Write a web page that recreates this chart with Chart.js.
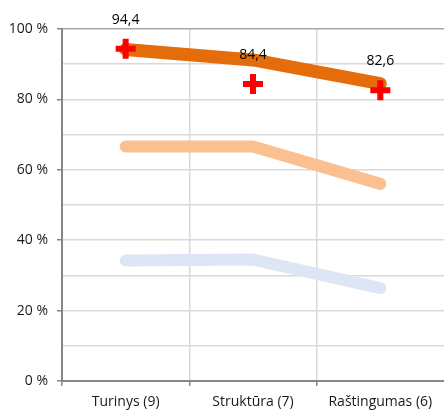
<!DOCTYPE html>
<html>
<head>
<meta charset="utf-8">
<script src="https://cdn.jsdelivr.net/npm/chart.js@4"></script>
<style>
  html, body { margin: 0; padding: 0; background: #fff; overflow: hidden; }
  #wrap { width: 444px; height: 411px; }
  canvas { display: block; }
</style>
</head>
<body>
<div id="wrap"><canvas id="chart" width="444" height="411"></canvas></div>
<script>
const categories = ["Turinys (9)", "Struktūra (7)", "Raštingumas (6)"];
const markValues = [94.4, 84.4, 82.6];
const darkValues = [94.2, 91.2, 84.5];
const lightValues = [66.6, 66.6, 56.0];
const blueValues = [34.2, 34.5, 26.4];
const yMajorTicks = [0, 20, 40, 60, 80, 100];

const FONT = "'Open Sans', 'Noto Sans', sans-serif";

// draws the value labels above the red crosses
const valueLabels = {
    id: "valueLabels",
    afterDatasetsDraw(chart) {
        const ctx = chart.ctx;
        const meta = chart.getDatasetMeta(0);
        ctx.save();
        ctx.font = "14px " + FONT;
        ctx.fillStyle = "#000";
        ctx.textAlign = "center";
        ctx.textBaseline = "middle";
        meta.data.forEach((pt, i) => {
            ctx.fillText(markValues[i].toFixed(1).replace(".", ","), pt.x, pt.y - 29);
        });
        ctx.restore();
    }
};

new Chart(document.getElementById("chart"), {
    type: "line",
    data: {
        labels: categories,
        datasets: [
            {
                data: markValues,
                showLine: false,
                pointStyle: "cross",
                pointRadius: 10,
                pointHoverRadius: 10,
                pointBorderWidth: 6,
                pointBorderColor: "#ff0000",
                pointBackgroundColor: "#ff0000"
            },
            {
                data: darkValues,
                borderColor: "#e46c0a",
                borderWidth: 13,
                borderCapStyle: "round",
                borderJoinStyle: "round",
                pointRadius: 0,
                tension: 0
            },
            {
                data: lightValues,
                borderColor: "#fac090",
                borderWidth: 12,
                borderCapStyle: "round",
                borderJoinStyle: "round",
                pointRadius: 0,
                tension: 0
            },
            {
                data: blueValues,
                borderColor: "#dce6f4",
                borderWidth: 12,
                borderCapStyle: "round",
                borderJoinStyle: "round",
                pointRadius: 0,
                tension: 0
            }
        ]
    },
    options: {
        responsive: false,
        animation: false,
        clip: false,
        layout: {
            autoPadding: false,
            padding: { top: 29, right: 0, left: 0, bottom: 0 }
        },
        plugins: {
            legend: { display: false },
            tooltip: { enabled: false }
        },
        scales: {
            x: {
                offset: true,
                grid: {
                    offset: true,
                    // the right edge of the plot runs off the canvas, no line there
                    color: c => c.type === "tick" ? "#d9d9d9" : "rgba(0,0,0,0)",
                    lineWidth: 1.5,
                    tickColor: c => c.type === "tick" ? "#868686" : "rgba(0,0,0,0)",
                    tickLength: 5
                },
                border: { color: "#868686", width: 2 },
                ticks: {
                    color: "#1a1a1a",
                    font: { family: FONT, size: 14 },
                    padding: 8,
                    maxRotation: 0
                },
                afterFit(scale) {
                    scale.height = 30;
                    scale.paddingLeft = 0;
                    scale.paddingRight = 0;
                }
            },
            y: {
                min: 0,
                max: 100,
                ticks: {
                    stepSize: 10,
                    color: "#1a1a1a",
                    font: { family: FONT, size: 14 },
                    padding: 9,
                    callback: v => yMajorTicks.includes(v) ? v + " %" : ""
                },
                grid: {
                    color: c => c.tick && c.tick.value === 100 ? "#a6a6a6" : "#d9d9d9",
                    lineWidth: 1.5,
                    tickLength: 5,
                    tickColor: c => c.tick && yMajorTicks.includes(c.tick.value) ? "#868686" : "rgba(0,0,0,0)"
                },
                border: { color: "#868686", width: 2 },
                afterFit(scale) { scale.width = 62; }
            }
        }
    },
    plugins: [valueLabels]
});
</script>
</body>
</html>
